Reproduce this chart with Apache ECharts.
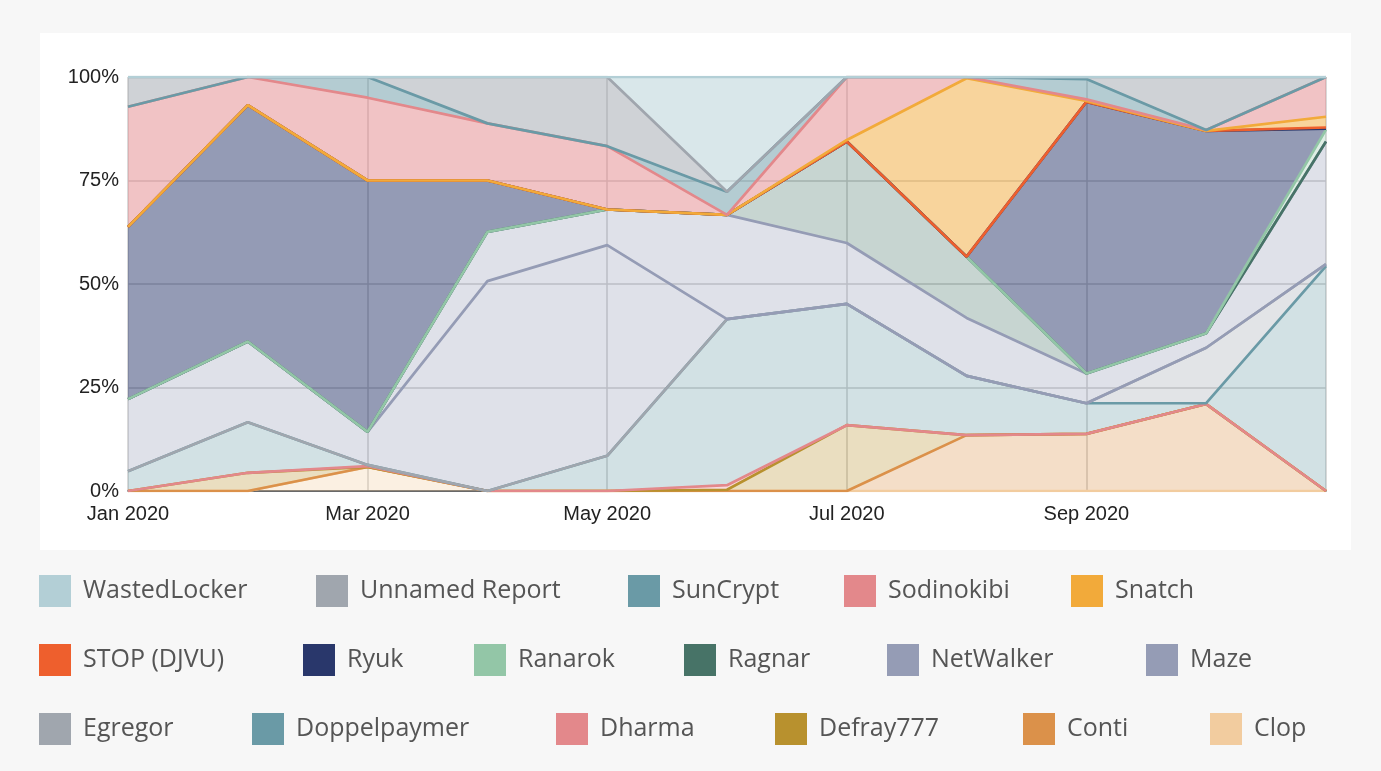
<!DOCTYPE html>
<html>
<head>
<meta charset="utf-8">
<title>Ransomware families by month, 2020</title>
<script src="https://cdn.jsdelivr.net/npm/echarts@6/dist/echarts.min.js"></script>
<style>
  html, body { margin: 0; padding: 0; background: #f7f7f7; }
  #panel { position: absolute; left: 40px; top: 33px; width: 1311px; height: 517px; background: #fff; }
  #chart { position: absolute; left: 0; top: 0; width: 1381px; height: 771px; }
</style>
</head>
<body>
<div id="panel"></div>
<div id="chart"></div>
<script>
const months = ['Jan 2020', 'Feb 2020', 'Mar 2020', 'Apr 2020', 'May 2020', 'Jun 2020',
  'Jul 2020', 'Aug 2020', 'Sep 2020', 'Oct 2020', 'Nov 2020']

// share of cases per family (%)
const clop          = [0, 0, 5.8, 0, 0, 0, 0, 0, 0, 0, 0]
const conti         = [0, 0, 0, 0, 0, 0, 0, 13.5, 13.8, 21.0, 0]
const defray777     = [0, 4.4, 0, 0, 0, 0.3, 15.9, 0, 0, 0, 0]
const dharma        = [0, 0, 0.2, 0, 0, 1.1, 0, 0, 0, 0, 0]
const doppelpaymer  = [4.8, 12.2, 0.3, 0, 8.5, 40.1, 29.3, 14.3, 7.4, 0.2, 54.3]
const egregor       = [0, 0, 0, 0, 0, 0, 0, 0, 0, 13.4, 0.5]
const maze          = [17.4, 19.5, 8.0, 50.7, 50.9, 0, 0, 0, 0, 0, 0]
const netwalker     = [0, 0, 0, 11.9, 8.6, 25.2, 14.7, 14.0, 7.2, 3.5, 29.6]
const ragnar        = [0, 0, 0, 0, 0, 0, 24.5, 14.8, 0, 0, 0]
const ranarok       = [0, 0, 0, 0, 0, 0, 0, 0, 0, 0, 2.9]
const ryuk          = [41.6, 57.1, 60.7, 12.4, 0, 0, 0, 0, 65.6, 48.9, 0.2]
const stopDjvu      = [0, 0, 0, 0, 0, 0, 0, 0, 0, 0, 0.3]
const snatch        = [0, 0, 0, 0, 0, 0, 0.4, 43.1, 0.2, 0, 2.6]
const sodinokibi    = [29.0, 6.8, 20.0, 13.8, 15.3, 0, 15.2, 0.3, 0.4, 0.2, 9.6]
const sunCrypt      = [0, 0, 5.0, 0, 0, 5.6, 0, 0, 4.9, 0, 0]
const unnamedReport = [7.2, 0, 0, 11.2, 16.7, 0, 0, 0, 0.5, 12.8, 0]
const wastedLocker  = [0, 0, 0, 0, 0, 27.7, 0, 0, 0, 0, 0]

// stacked bottom-up
const families = [
  ['Clop', clop], ['Conti', conti], ['Defray777', defray777], ['Dharma', dharma],
  ['Doppelpaymer', doppelpaymer], ['Egregor', egregor], ['Maze', maze],
  ['NetWalker', netwalker], ['Ragnar', ragnar], ['Ranarok', ranarok], ['Ryuk', ryuk],
  ['STOP (DJVU)', stopDjvu], ['Snatch', snatch], ['Sodinokibi', sodinokibi],
  ['SunCrypt', sunCrypt], ['Unnamed Report', unnamedReport], ['WastedLocker', wastedLocker]
]

const colors = {
  'Clop': '#f2cc9f', 'Conti': '#db914a', 'Defray777': '#b8912e', 'Dharma': '#e3888b',
  'Doppelpaymer': '#6a9aa6', 'Egregor': '#a0a6ae', 'Maze': '#959cb5', 'NetWalker': '#959cb5',
  'Ragnar': '#477367', 'Ranarok': '#93c6a7', 'Ryuk': '#29376b', 'STOP (DJVU)': '#ee5f2d',
  'Snatch': '#f2aa3a', 'Sodinokibi': '#e3888b', 'SunCrypt': '#6a9aa6',
  'Unnamed Report': '#a0a6ae', 'WastedLocker': '#b3cfd6'
}
// the upper families are filled a bit stronger in the original
const strongFill = ['Ryuk', 'STOP (DJVU)', 'Snatch', 'Sodinokibi', 'SunCrypt', 'Unnamed Report', 'WastedLocker']

// legend rows as laid out under the chart
const legendRows = [
  { top: 575, items: ['WastedLocker', 'Unnamed Report', 'SunCrypt', 'Sodinokibi', 'Snatch'], lefts: [39, 316, 628, 844, 1071] },
  { top: 644, items: ['STOP (DJVU)', 'Ryuk', 'Ranarok', 'Ragnar', 'NetWalker', 'Maze'], lefts: [39, 303, 474, 684, 887, 1146] },
  { top: 713, items: ['Egregor', 'Doppelpaymer', 'Dharma', 'Defray777', 'Conti', 'Clop'], lefts: [39, 252, 556, 775, 1023, 1210] }
]

const chart = echarts.init(document.getElementById('chart'))

const areaSeries = families.map(([name, data]) => ({
  name,
  type: 'line',
  stack: 'area',
  data,
  symbol: 'none',
  silent: true,
  z: 2,
  itemStyle: { color: colors[name] },
  lineStyle: { width: 0, opacity: 0 },
  areaStyle: { color: colors[name], opacity: strongFill.includes(name) ? 0.5 : 0.3 }
}))

const lineSeries = families.map(([name, data]) => ({
  name,
  type: 'line',
  stack: 'line',
  data,
  symbol: 'none',
  silent: true,
  z: 3,
  itemStyle: { color: colors[name] },
  lineStyle: { color: colors[name], width: 2.7 }
}))

const legends = []
legendRows.forEach(row => {
  row.items.forEach((name, i) => {
    legends.push({
      data: [name],
      left: row.lefts[i],
      top: row.top,
      padding: 0,
      icon: 'rect',
      itemWidth: 32,
      itemHeight: 32,
      itemStyle: { color: colors[name] },
      textStyle: {
        fontFamily: '"Open Sans", "Noto Sans", sans-serif',
        fontSize: 25,
        color: '#555',
        padding: [2, 0, 0, 7]
      }
    })
  })
})

const axisFont = '"Liberation Sans", Arial, sans-serif'

chart.setOption({
  animation: false,
  backgroundColor: 'transparent',
  grid: { left: 128, right: 55, top: 77, bottom: 280 },
  legend: legends,
  xAxis: {
    type: 'category',
    data: months,
    boundaryGap: false,
    axisTick: { show: false },
    axisLine: { lineStyle: { color: '#444', width: 1.5 } },
    axisLabel: {
      interval: (i) => i % 2 === 0 && i < months.length - 1,
      margin: 13,
      fontFamily: axisFont,
      fontSize: 20,
      color: '#222'
    },
    splitLine: { show: true, interval: 1, lineStyle: { color: '#cccccc', width: 1.5 } }
  },
  yAxis: {
    type: 'value',
    min: 0,
    max: 100,
    interval: 25,
    axisLine: { show: false },
    axisTick: { show: false },
    axisLabel: {
      formatter: '{value}%',
      margin: 9,
      fontFamily: axisFont,
      fontSize: 20,
      color: '#222'
    },
    splitLine: { lineStyle: { color: '#cccccc', width: 1.5 } }
  },
  series: areaSeries.concat(lineSeries)
})

window.addEventListener('resize', () => chart.resize())
</script>
</body>
</html>
